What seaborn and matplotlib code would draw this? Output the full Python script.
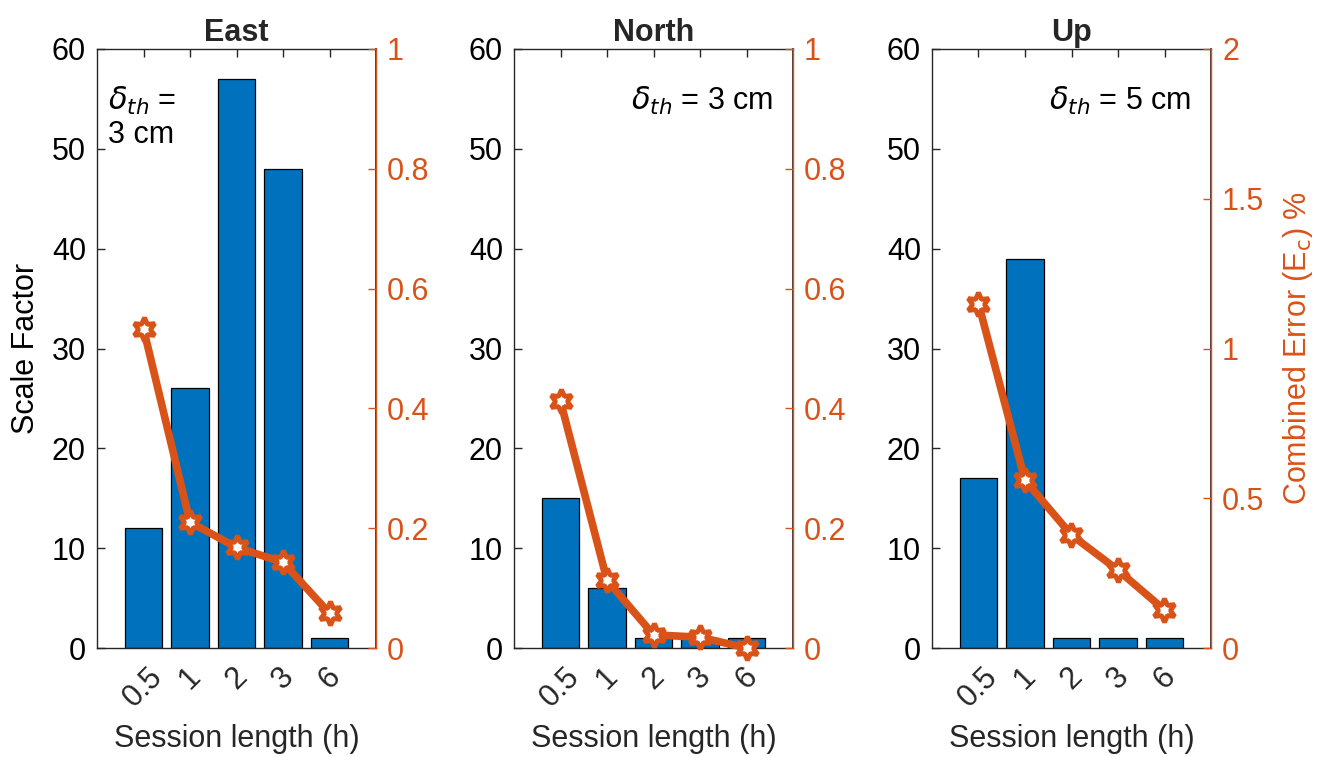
import numpy as np
import pandas as pd
import matplotlib
matplotlib.use("Agg")
import matplotlib.pyplot as plt
import seaborn as sns

sessions = ["0.5", "1", "2", "3", "6"]
panels = ["East", "North", "Up"]
scale_east = [12, 26, 57, 48, 1]
scale_north = [15, 6, 1, 1, 1]
scale_up = [17, 39, 1, 1, 1]
err_east = [0.533, 0.21, 0.168, 0.143, 0.058]
err_north = [0.412, 0.113, 0.022, 0.018, 0.0]
err_up = [1.15, 0.56, 0.377, 0.26, 0.127]
right_max = [1, 1, 2]
right_ticks = [[0, 0.2, 0.4, 0.6, 0.8, 1], [0, 0.2, 0.4, 0.6, 0.8, 1], [0, 0.5, 1, 1.5, 2]]
right_ticklabels = [["0", "0.2", "0.4", "0.6", "0.8", "1"], ["0", "0.2", "0.4", "0.6", "0.8", "1"],
                    ["0", "0.5", "1", "1.5", "2"]]
annotations = [r"$\delta_{th}$ =" + "\n3 cm", r"$\delta_{th}$ = 3 cm", r"$\delta_{th}$ = 5 cm"]

sns.set_theme(style="white")
plt.rcParams["font.family"] = ["Liberation Sans", "DejaVu Sans"]
plt.rcParams["mathtext.fontset"] = "dejavusans"

BLUE = "#0072BD"
ORANGE = "#D95319"
DARK = "#262626"
FS = 22

fig = plt.figure(figsize=(13.34, 7.57), dpi=100)
lefts = [97 / 1334, 514 / 1334, 932 / 1334]
w = 279 / 1334
b = (757 - 648) / 757
h = 599 / 757

scales = [scale_east, scale_north, scale_up]
errs = [err_east, err_north, err_up]

for i in range(3):
    ax = fig.add_axes([lefts[i], b, w, h])
    df = pd.DataFrame({"Session": sessions, "Scale": scales[i]})
    sns.barplot(data=df, x="Session", y="Scale", order=sessions, color=BLUE,
                saturation=1, width=0.8, edgecolor="black", linewidth=0.9, ax=ax)
    ax.set_xlim(-1, 5)
    ax.set_ylim(0, 60)
    ax.set_yticks([0, 10, 20, 30, 40, 50, 60])
    ax.set_yticklabels(["0", "10", "20", "30", "40", "50", "60"], fontsize=FS, color="black")
    ax.set_xticks(range(5))
    ax.set_xticklabels(sessions, rotation=45, fontsize=FS, color=DARK)
    ax.tick_params(axis="both", direction="in", length=6, width=1, color=DARK,
                   top=True, bottom=True, left=True, right=False)
    ax.tick_params(axis="x", pad=10)
    ax.tick_params(axis="y", pad=8)
    ax.set_xlabel("Session length (h)", fontsize=FS, color=DARK, labelpad=8)
    if i == 0:
        ax.set_ylabel("Scale Factor", fontsize=FS, color="black", labelpad=8)
    else:
        ax.set_ylabel("")
    ax.set_title(panels[i], fontsize=FS, fontweight="bold", pad=6)
    for s in ["left", "bottom", "top"]:
        ax.spines[s].set_visible(True)
        ax.spines[s].set_color(DARK)
        ax.spines[s].set_linewidth(1)

    ax2 = ax.twinx()
    ldf = pd.DataFrame({"pos": np.arange(5), "Err": errs[i]})
    sns.lineplot(data=ldf, x="pos", y="Err", ax=ax2, color=ORANGE, linewidth=5.5,
                 marker=(6, 1, 0), markersize=17, markerfacecolor="white",
                 markeredgecolor=ORANGE, markeredgewidth=3.5, clip_on=False)
    ax2.set_ylim(0, right_max[i])
    ax2.set_yticks(right_ticks[i])
    ax2.set_yticklabels(right_ticklabels[i], fontsize=FS, color=ORANGE)
    ax2.tick_params(axis="y", direction="in", length=6, width=1, color=ORANGE, right=True, pad=8)
    ax2.spines["right"].set_visible(True)
    ax2.spines["right"].set_color(ORANGE)
    ax2.spines["right"].set_linewidth(1)
    ax2.spines["left"].set_visible(False)
    ax2.spines["top"].set_visible(False)
    ax2.spines["bottom"].set_visible(False)
    ax2.set_xlabel("")
    if i == 2:
        ax2.set_ylabel("Combined Error (E$_\\mathrm{c}$) %", fontsize=FS, color=ORANGE, labelpad=12)
    else:
        ax2.set_ylabel("")
    ax.set_xlim(-1, 5)

    if i == 0:
        ax.text(0.04, 0.94, annotations[i], transform=ax.transAxes, fontsize=FS,
                ha="left", va="top", linespacing=1.15, color="black")
    else:
        ax.text(0.93, 0.94, annotations[i], transform=ax.transAxes, fontsize=FS,
                ha="right", va="top", color="black")

fig.savefig("out.png", dpi=100, facecolor="white")
